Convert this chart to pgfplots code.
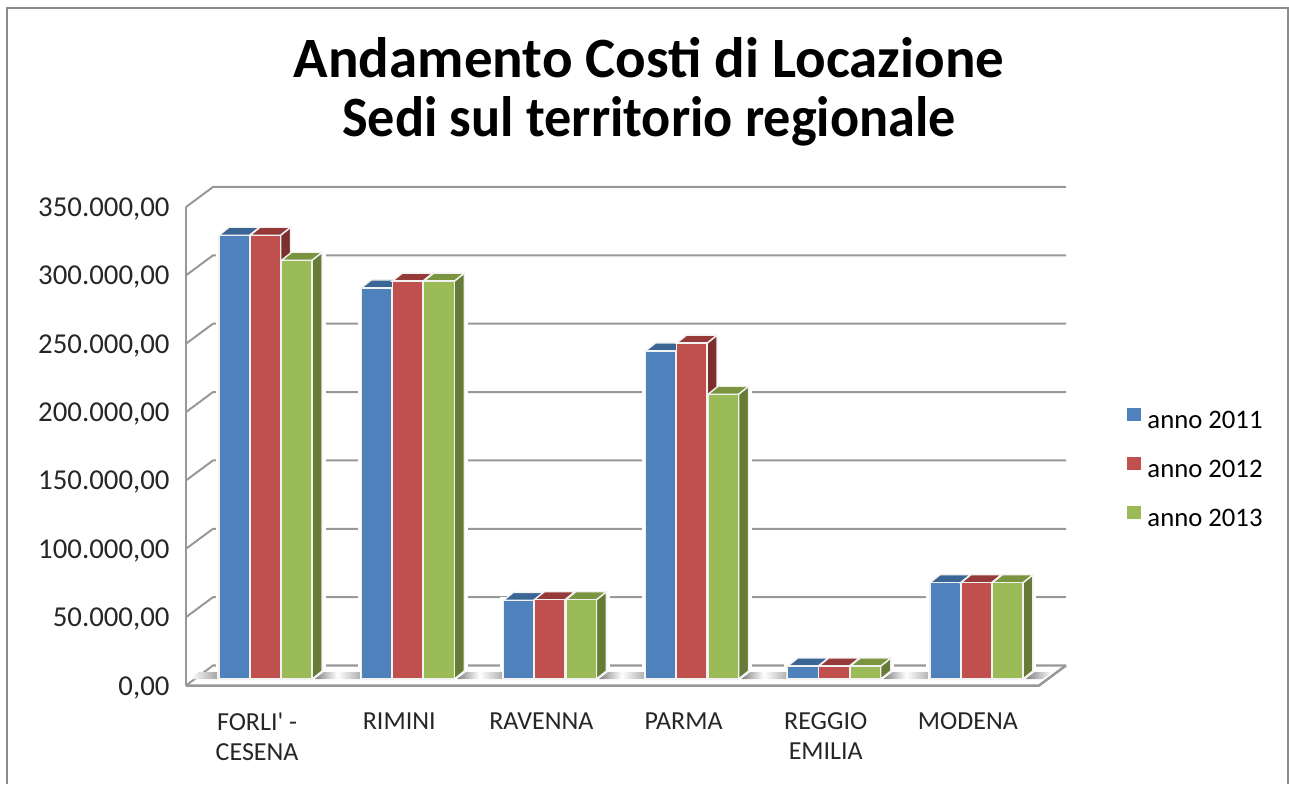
\documentclass[border=0pt]{standalone}
\usepackage{fontspec}
\usepackage{graphicx}
\usepackage{pgfplots}
\usepackage{pgfplotstable}
\usepackage{xfp}
\pgfplotsset{compat=1.18}
\setmainfont{Carlito}
\newfontfamily\plainquote{Carlito}[Ligatures=ResetAll]
\definecolor{fB}{HTML}{4F81BD}\definecolor{tB}{HTML}{3A6595}\definecolor{sB}{HTML}{30527B}
\definecolor{fR}{HTML}{C0504D}\definecolor{tR}{HTML}{953A38}\definecolor{sR}{HTML}{7D2F2D}
\definecolor{fG}{HTML}{9BBB59}\definecolor{tG}{HTML}{7A9440}\definecolor{sG}{HTML}{667B35}
\definecolor{fr}{HTML}{8C8C8C}\definecolor{gr}{HTML}{989898}\definecolor{bedge}{HTML}{F2F2F2}
\pgfplotstableread{
cat a2011 a2012 a2013
0 324600 324600 306300
1 286000 291000 291000
2 57500 58000 58000
3 240000 245700 208300
4 9500 9500 9500
5 70400 70400 70400
}\costs
% one category = 142.17 px, 50000 = 68.36 px
\newcommand{\faces}[5]{% category, value, left edge of the bar relative to category centre (px), top, side
 \edef\xa{\fpeval{#1+(#3)/142.17}}%
 \edef\xb{\fpeval{#1+(#3+30.5)/142.17}}%
 \edef\xc{\fpeval{#1+(#3+40.5)/142.17}}%
 \edef\xd{\fpeval{#1+(#3+10)/142.17}}%
 \edef\yb{\fpeval{#2}}%
 \edef\yt{\fpeval{#2+8*731.4}}%
 \edef\zb{\fpeval{8*731.4}}%
 \addplot[forget plot,fill=#5,draw=bedge,line width=1.4pt,yshift=6.5pt] coordinates {(\xb,0)(\xc,\zb)(\xc,\yt)(\xb,\yb)} --cycle;
 \addplot[forget plot,fill=#4,draw=bedge,line width=1.4pt,yshift=6.5pt] coordinates {(\xa,\yb)(\xd,\yt)(\xc,\yt)(\xb,\yb)} --cycle;
}
\newcommand{\halo}[2]{% column, bar shift
 \addplot[forget plot,ybar,bar width=30.5pt,bar shift=#2pt,yshift=6.5pt,fill=white,draw=white,line width=7pt] table[x=cat,y=#1]{\costs};
 \addplot[forget plot,ybar,bar width=30.5pt,bar shift=#2pt+10pt,yshift=14.5pt,fill=white,draw=white,line width=7pt] table[x=cat,y=#1]{\costs};
}
\newcommand{\shadow}[2]{% floor shadow between two px offsets from the front-left corner
 \shade[left color=black!50,right color=black!30,middle color=white]
   ([shift={(#1pt,6.5pt)}]axis cs:-0.5,0) -- ++(#2pt-#1pt,0pt) -- ++(0pt,7pt) -- ++(#1pt+9pt-#2pt,0pt) -- cycle;
}
\begin{document}
\begin{tikzpicture}[x=1pt,y=1pt]
\path[use as bounding box] (0,0) rectangle (1289,784);
\draw[fr,line width=2.4pt] (7,0) -- (7,776) -- (1288,776) -- (1288,0);
\node[font=\fontsize{57}{59.5}\selectfont\bfseries,align=center,anchor=center] at (649,692) {Andamento Costi di Locazione\\\scalebox{0.952}[1]{Sedi sul territorio regionale}};
\begin{axis}[
 at={(186pt,98.5pt)},anchor=south west,
 scale only axis,width=853pt,height=478.5pt,
 xmin=-0.5,xmax=5.5,ymin=0,ymax=350000,
 clip=false,
 axis line style={draw=none},
 major tick length=0pt,
 scaled y ticks=false,
 xtick={0,1,2,3,4,5},
 xticklabels={{FORLI{\plainquote'} -\\CESENA},RIMINI,RAVENNA,PARMA,{REGGIO\\EMILIA},MODENA},
 xticklabel style={font=\fontsize{26}{30}\selectfont,align=center,anchor=north,yshift=-24pt,text=black!85},
 ytick={0,50000,100000,150000,200000,250000,300000,350000},
 yticklabels={{0,00},{50.000,00},{100.000,00},{150.000,00},{200.000,00},{250.000,00},{300.000,00},{350.000,00}},
 yticklabel style={font=\fontsize{28.8}{30}\selectfont,anchor=east,xshift=-13pt,yshift=-2pt,text=black!85},
 legend style={draw=none,fill=none,at={(1.103,0.4525)},anchor=west,legend cell align=left,
   font=\fontsize{26.7}{30}\selectfont,row sep=24.5pt,inner sep=0pt},
]
% walls and gridlines
\pgfplotsinvokeforeach{0,50000,100000,150000,200000,250000,300000,350000}{
 \draw[gr,line width=2pt] (axis cs:-0.5,#1) -- ++(27pt,20pt) -- ++(853pt,0pt);
}
\draw[gr,line width=2pt] (axis cs:-0.5,0) -- (axis cs:-0.5,350000);
% white halo round the bars
\halo{a2011}{-22.75}\halo{a2012}{8.25}\halo{a2013}{39.75}
% floor
\draw[gr,line width=2.5pt,line join=round] (axis cs:-0.5,0) -- (axis cs:5.5,0) -- ++(27pt,20pt);
% floor shadows between the groups
\shade[left color=white,right color=black!35] ([shift={(4pt,6.5pt)}]axis cs:-0.5,0) -- ++(27pt,0pt) -- ++(0pt,7pt) -- ++(-18pt,0pt) -- cycle;
\shadow{128.8}{173.8}\shadow{271}{316}\shadow{413.1}{458.1}\shadow{555.3}{600.3}\shadow{697.5}{742.5}
\shade[left color=black!50,right color=white] ([shift={(839.6pt,6.5pt)}]axis cs:-0.5,0) -- ++(17pt,0pt) -- ++(10pt,7pt) -- ++(-18pt,0pt) -- cycle;

\faces{0}{324600}{-38}{tB}{sB}\faces{1}{286000}{-38}{tB}{sB}\faces{2}{57500}{-38}{tB}{sB}
\faces{3}{240000}{-38}{tB}{sB}\faces{4}{9500}{-38}{tB}{sB}\faces{5}{70400}{-38}{tB}{sB}
\addplot[ybar,bar width=30.5pt,bar shift=-22.75pt,yshift=6.5pt,fill=fB,draw=bedge,line width=1.4pt,
  legend image code/.code={\fill[fB] (0pt,-6pt) rectangle (13pt,6pt);\path (17pt,0pt);}]
 table[x=cat,y=a2011]{\costs};
\addlegendentry{anno 2011}
\faces{0}{324600}{-7}{tR}{sR}\faces{1}{291000}{-7}{tR}{sR}\faces{2}{58000}{-7}{tR}{sR}
\faces{3}{245700}{-7}{tR}{sR}\faces{4}{9500}{-7}{tR}{sR}\faces{5}{70400}{-7}{tR}{sR}
\addplot[ybar,bar width=30.5pt,bar shift=8.25pt,yshift=6.5pt,fill=fR,draw=bedge,line width=1.4pt,
  legend image code/.code={\fill[fR] (0pt,-6pt) rectangle (13pt,6pt);\path (17pt,0pt);}]
 table[x=cat,y=a2012]{\costs};
\addlegendentry{anno 2012}
\faces{0}{306300}{24.5}{tG}{sG}\faces{1}{291000}{24.5}{tG}{sG}\faces{2}{58000}{24.5}{tG}{sG}
\faces{3}{208300}{24.5}{tG}{sG}\faces{4}{9500}{24.5}{tG}{sG}\faces{5}{70400}{24.5}{tG}{sG}
\addplot[ybar,bar width=30.5pt,bar shift=39.75pt,yshift=6.5pt,fill=fG,draw=bedge,line width=1.4pt,
  legend image code/.code={\fill[fG] (0pt,-6pt) rectangle (13pt,6pt);\path (17pt,0pt);}]
 table[x=cat,y=a2013]{\costs};
\addlegendentry{anno 2013}
\end{axis}
\end{tikzpicture}
\end{document}
